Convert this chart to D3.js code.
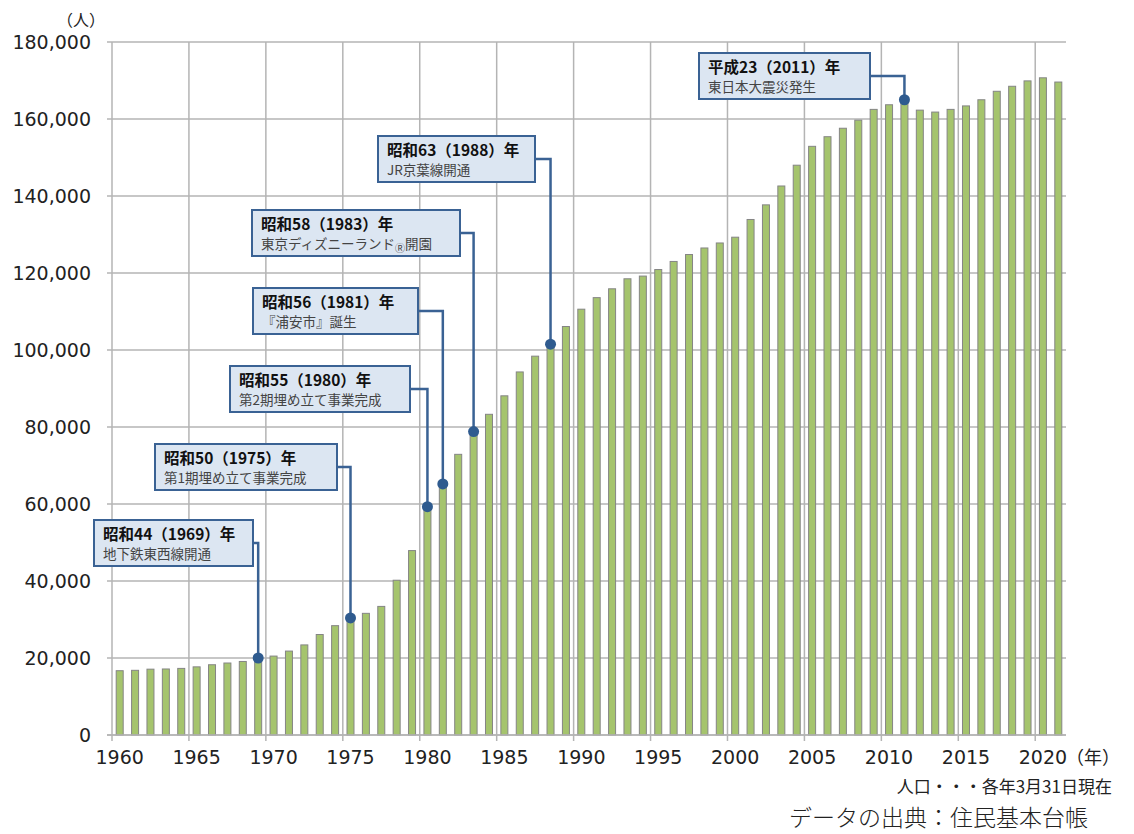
<!DOCTYPE html>
<html>
<head>
<meta charset="utf-8">
<script src="https://cdn.jsdelivr.net/npm/d3@7"></script>
<style>
  body { margin: 0; background: #fff; }
  svg { display: block; }
</style>
</head>
<body>
<svg id="chart" width="1134" height="834"></svg>
<script>
// population by year (3/31 each year), 1960 .. 2021
const years = d3.range(1960, 2022);
const population = [
  16700, 16800, 17100, 17150, 17300, 17700, 18250, 18700, 19100, 20000,
  20500, 21800, 23400, 26100, 28400, 30400, 31600, 33400, 40200, 47900,
  59300, 65200, 72900, 78800, 83300, 88100, 94300, 98400, 101500, 106100,
  110600, 113600, 115900, 118500, 119200, 120900, 123000, 124800, 126500, 127800,
  129300, 133900, 137700, 142600, 148000, 152900, 155400, 157600, 159700, 162500,
  163700, 165000, 162300, 161800, 162500, 163400, 165000, 167200, 168500, 169900,
  170700, 169600
];
const yTicks = [0, 20000, 40000, 60000, 80000, 100000, 120000, 140000, 160000, 180000];
const xTicks = d3.range(1960, 2021, 5);

// events
const eventYears  = [1969, 1975, 1980, 1981, 1983, 1988, 2011];
const eventTitles = [
  "昭和44（1969）年", "昭和50（1975）年", "昭和55（1980）年", "昭和56（1981）年",
  "昭和58（1983）年", "昭和63（1988）年", "平成23（2011）年"
];
const eventNotes = [
  "地下鉄東西線開通", "第1期埋め立て事業完成", "第2期埋め立て事業完成", "『浦安市』誕生",
  "東京ディズニーランド®開園", "JR京葉線開通", "東日本大震災発生"
];
// callout box placement [left, top, width]
const boxLayout = [
  [94, 520, 159], [155, 444, 182], [230, 366, 180], [253, 288, 165],
  [252, 210, 208], [378, 136, 157], [699, 53, 171]
];

const svg = d3.select("#chart");
const plotLeft = 112, plotRight = 1066, plotTop = 42, plotBottom = 735;

const x = d3.scaleLinear().domain([1960, 2022]).range([plotLeft, plotRight]);
const y = d3.scaleLinear().domain([0, 180000]).range([plotBottom, plotTop]);

const gridColor = "#b4b4b4";
const numFont = "'DejaVu Sans', sans-serif";
const jpFont = "'Noto Sans CJK JP', sans-serif";

// horizontal grid + y labels
svg.append("g").selectAll("line")
  .data(yTicks)
  .join("line")
  .attr("x1", plotLeft - 5).attr("x2", plotRight)
  .attr("y1", d => y(d)).attr("y2", d => y(d))
  .attr("stroke", gridColor).attr("stroke-width", 1.5);

svg.append("g").selectAll("text")
  .data(yTicks)
  .join("text")
  .attr("x", 91).attr("y", d => y(d) + 7)
  .attr("text-anchor", "end")
  .attr("font-family", numFont).attr("font-size", 19)
  .attr("fill", "#222")
  .text(d => d3.format(",")(d));

// vertical grid lines at every 5 years, with tick below axis
svg.append("g").selectAll("line")
  .data(xTicks)
  .join("line")
  .attr("x1", d => x(d)).attr("x2", d => x(d))
  .attr("y1", plotTop).attr("y2", plotBottom + 6)
  .attr("stroke", gridColor).attr("stroke-width", 1.5);

svg.append("g").selectAll("text")
  .data(xTicks)
  .join("text")
  .attr("x", d => x(d + 0.5))
  .attr("y", 764)
  .attr("text-anchor", "middle")
  .attr("font-family", numFont).attr("font-size", 19)
  .attr("fill", "#222")
  .text(d => d);

// bars
svg.append("g").selectAll("rect")
  .data(years)
  .join("rect")
  .attr("x", d => x(d + 0.5) - 3.5)
  .attr("width", 7)
  .attr("y", (d, i) => y(population[i]))
  .attr("height", (d, i) => plotBottom - y(population[i]))
  .attr("fill", "#a5c46d")
  .attr("stroke", "#858585")
  .attr("stroke-width", 1);

// axis line on top of bars
svg.append("line")
  .attr("x1", plotLeft - 5).attr("x2", plotRight)
  .attr("y1", plotBottom).attr("y2", plotBottom)
  .attr("stroke", gridColor).attr("stroke-width", 1.5);

// unit labels
svg.append("text")
  .attr("x", 81).attr("y", 26)
  .attr("text-anchor", "middle")
  .attr("font-family", jpFont).attr("font-size", 16).attr("fill", "#222")
  .text("（人）");
svg.append("text")
  .attr("x", 1066).attr("y", 764)
  .attr("font-family", jpFont).attr("font-size", 18).attr("fill", "#222")
  .text("（年）");

// callouts
const lineColor = "#3a6294";
const callouts = svg.append("g");
eventYears.forEach((yr, i) => {
  const [bx, by, bw] = boxLayout[i];
  const bh = 46;
  const cx = x(yr + 0.5);
  const cy = y(population[years.indexOf(yr)]);
  const ly = by + 23;

  callouts.append("path")
    .attr("d", `M${bx + bw},${ly} H${cx} V${cy}`)
    .attr("fill", "none")
    .attr("stroke", lineColor).attr("stroke-width", 2.5);
  callouts.append("circle")
    .attr("cx", cx).attr("cy", cy).attr("r", 5.5)
    .attr("fill", "#2f5b8f");

  callouts.append("rect")
    .attr("x", bx).attr("y", by).attr("width", bw).attr("height", bh)
    .attr("fill", "#dce6f2")
    .attr("stroke", lineColor).attr("stroke-width", 2);

  callouts.append("text")
    .attr("x", bx + 9).attr("y", by + 20)
    .attr("font-family", jpFont).attr("font-size", 15.5).attr("font-weight", "bold")
    .attr("fill", "#111")
    .text(eventTitles[i]);

  const note = callouts.append("text")
    .attr("x", bx + 9).attr("y", by + 39)
    .attr("font-family", jpFont).attr("font-size", 13.5)
    .attr("fill", "#444");
  const parts = eventNotes[i].split("®");
  note.append("tspan").text(parts[0]);
  if (parts.length > 1) {
    note.append("tspan").attr("font-size", 10).attr("dy", 3).text("Ⓡ");
    note.append("tspan").attr("dy", -3).text(parts[1]);
  }
});

// footnotes
svg.append("text")
  .attr("x", 1112).attr("y", 793)
  .attr("text-anchor", "end")
  .attr("font-family", jpFont).attr("font-size", 17).attr("fill", "#222")
  .text("人口・・・各年3月31日現在");
svg.append("text")
  .attr("x", 1088).attr("y", 826)
  .attr("text-anchor", "end")
  .attr("font-family", jpFont).attr("font-size", 23).attr("font-weight", 300).attr("fill", "#222")
  .text("データの出典：住民基本台帳");
</script>
</body>
</html>
